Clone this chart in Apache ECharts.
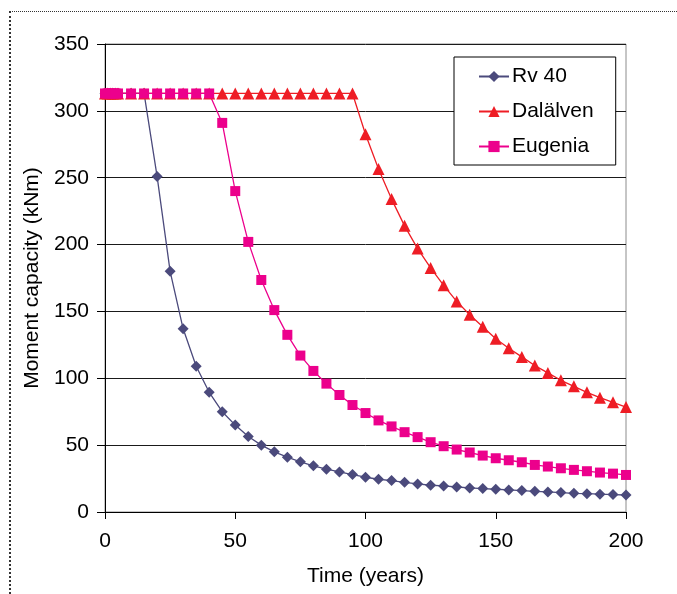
<!DOCTYPE html>
<html>
<head>
<meta charset="utf-8">
<script src="https://cdn.jsdelivr.net/npm/echarts@6/dist/echarts.min.js"></script>
<style>
  html, body { margin: 0; padding: 0; background: #fff; }
  #wrap { position: relative; width: 677px; height: 594px; overflow: hidden; }
  #frame { position: absolute; left: 9px; top: 11px; right: -4px; bottom: -4px;
           border-top: 1px dotted #333; border-left: 2px dotted #333; }
  #chart { position: absolute; left: 0; top: 0; width: 677px; height: 594px; }
</style>
</head>
<body>
<div id="wrap">
  <div id="frame"></div>
  <div id="chart"></div>
</div>
<script>
// Time in years at which moment capacity was evaluated
const years = [0, 1, 2, 3, 4,
  5, 10, 15, 20, 25, 30, 35, 40, 45, 50, 55, 60, 65, 70, 75, 80, 85, 90, 95, 100,
  105, 110, 115, 120, 125, 130, 135, 140, 145, 150, 155, 160, 165, 170, 175, 180,
  185, 190, 195, 200];

// Moment capacity (kNm) for each bridge
const rv40 = [313, 313, 313, 313, 313,
  313, 313, 313, 251, 180, 137, 109, 89.5,
  75, 65, 56.5, 50, 45, 41, 37.5, 34.5,
  32, 30, 28, 26, 24.5, 23.5, 22.2, 21,
  20, 19.5, 18.7, 18, 17.5, 17, 16.5, 16,
  15.5, 15, 14.5, 14, 13.7, 13.3, 13, 12.7];

const dalalven = [313, 313, 313, 313, 313,
  313, 313, 313, 313, 313, 313, 313, 313, 313, 313,
  313, 313, 313, 313, 313, 313, 313, 313, 313,
  282.5, 256.5, 234, 214, 197, 182.5, 169.5, 157.5, 147.5, 138.5, 129.5,
  122.5, 116, 109.5, 104, 98.5, 94, 89.5, 85.5, 82, 78.5];

const eugenia = [313, 313, 313, 313, 313,
  313, 313, 313, 313, 313, 313, 313, 313,
  291, 240, 202, 173.5, 151, 132.5, 117, 105.5,
  96, 87.5, 80, 74, 68.5, 64, 59.7, 56,
  52.2, 49.2, 46.7, 44.5, 42.2, 40.2, 38.7, 37.2,
  35.2, 34, 32.7, 31.5, 30.5, 29.5, 28.7, 27.7];

const seriesNames = ['Rv 40', 'Dalälven', 'Eugenia'];
const yTicks = [0, 50, 100, 150, 200, 250, 300, 350];
const xTicks = [0, 50, 100, 150, 200];

const pairs = vals => years.map((t, i) => [t, vals[i]]);

const FONT = "'Liberation Sans', Arial, sans-serif";
const chart = echarts.init(document.getElementById('chart'), null, { renderer: 'canvas' });

chart.setOption({
  animation: false,
  backgroundColor: 'transparent',
  textStyle: { fontFamily: FONT },
  grid: {
    left: 105, right: 51, top: 44, bottom: 82,
    show: true, borderColor: '#8c8c8c', borderWidth: 1, backgroundColor: 'transparent'
  },
  legend: {
    orient: 'vertical',
    left: 454, top: 57,
    padding: [9, 22, 8, 24],
    itemGap: 14,
    itemWidth: 30, itemHeight: 14,
    backgroundColor: '#fff',
    borderColor: '#000', borderWidth: 1, borderRadius: 0,
    textStyle: { fontFamily: FONT, fontSize: 21, color: '#000', padding: [0, 0, 0, -2] },
    data: seriesNames
  },
  xAxis: {
    type: 'value',
    min: xTicks[0], max: xTicks[xTicks.length - 1], interval: 50,
    name: 'Time (years)',
    nameLocation: 'middle', nameGap: 54,
    nameTextStyle: { fontFamily: FONT, fontSize: 21, color: '#000' },
    axisLine: { show: true, onZero: false, lineStyle: { color: '#000', width: 1 } },
    axisTick: { show: true, length: 7, inside: false, lineStyle: { color: '#000' } },
    axisLabel: { fontFamily: FONT, fontSize: 21, color: '#000', margin: 19 },
    splitLine: { show: false }
  },
  yAxis: {
    type: 'value',
    min: yTicks[0], max: yTicks[yTicks.length - 1], interval: 50,
    name: 'Moment capacity (kNm)',
    nameLocation: 'middle', nameGap: 61, nameRotate: 90,
    nameTextStyle: { fontFamily: FONT, fontSize: 21, color: '#000' },
    axisLine: { show: true, onZero: false, lineStyle: { color: '#000', width: 1 } },
    axisTick: { show: true, length: 8, inside: false, lineStyle: { color: '#000' } },
    axisLabel: { fontFamily: FONT, fontSize: 21, color: '#000', margin: 16 },
    splitLine: { show: true, lineStyle: { color: '#1a1a1a', width: 1 } }
  },
  series: [
    {
      name: seriesNames[0], type: 'line', data: pairs(rv40),
      symbol: 'diamond', symbolSize: 11,
      itemStyle: { color: '#4b4a7c' },
      lineStyle: { color: '#4b4a7c', width: 1.3 }
    },
    {
      name: seriesNames[1], type: 'line', data: pairs(dalalven),
      symbol: 'triangle', symbolSize: 12,
      itemStyle: { color: '#ee1d25' },
      lineStyle: { color: '#ee1d25', width: 1.3 }
    },
    {
      name: seriesNames[2], type: 'line', data: pairs(eugenia),
      symbol: 'rect', symbolSize: 10,
      itemStyle: { color: '#ec008c' },
      lineStyle: { color: '#ec008c', width: 1.3 }
    }
  ]
});
</script>
</body>
</html>
